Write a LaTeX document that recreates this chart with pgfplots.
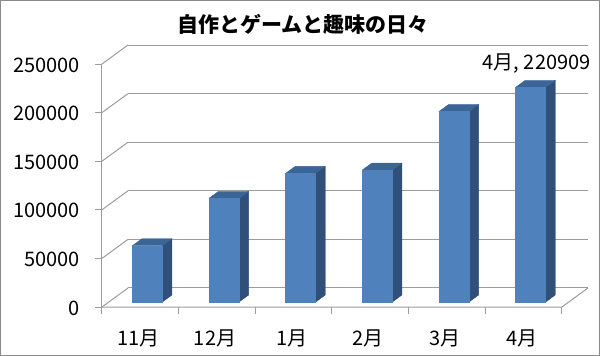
\documentclass[border=0pt]{standalone}
\usepackage{pgfplots}
\pgfplotsset{compat=1.18}
\usepackage{pgfplotstable}
\usepackage{fontspec}
\setmainfont{Noto Sans CJK JP}
\definecolor{barfront}{HTML}{4F81BD}
\definecolor{bartop}{HTML}{3C6597}
\definecolor{barside}{HTML}{30507A}
\definecolor{gridc}{HTML}{9C9C9C}
\definecolor{framec}{HTML}{8A8A8A}

\pgfplotstableread{
x v
0 57900
1 106700
2 132400
3 135800
4 196000
5 220909
}\visits

\begin{document}
\begin{tikzpicture}
\useasboundingbox (0,0) rectangle (600bp,356bp);
\begin{axis}[
  at={(109bp,54bp)}, anchor=south west,
  scale only axis, width=460bp, height=243bp,
  xmin=-0.5, xmax=5.5, ymin=0, ymax=250000,
  clip=false,
  axis line style={draw=none},
  major tick length=0pt,
  xtick={0,1,2,3,4,5},
  xticklabels={11月,12月,1月,2月,3月,4月},
  ytick={0,50000,100000,150000,200000,250000},
  scaled y ticks=false,
  /pgf/number format/fixed,
  /pgf/number format/1000 sep={},
  /pgf/number format/assume math mode=true,
  tick label style={font=\fontsize{20bp}{22bp}\selectfont, inner sep=0pt},
  yticklabel style={anchor=east, xshift=-29bp, yshift=-6bp},
  xticklabel style={anchor=center, xshift=-9bp, yshift=-36bp},
  title={自作とゲームと趣味の日々},
  title style={font=\fontsize{21bp}{24bp}\selectfont\bfseries, anchor=center,
    at={(axis description cs:0.5,1)}, xshift=-36bp, yshift=29bp},
]
% walls and floor
\pgfplotsinvokeforeach{0,50000,100000,150000,200000,250000}{
  \draw[gridc, line width=1bp] ([shift={(19bp,14bp)}]axis cs:-0.5,#1) -- ([shift={(19bp,14bp)}]axis cs:5.5,#1);
  \draw[gridc, line width=1bp] ([shift={(-7bp,-5bp)}]axis cs:-0.5,#1) -- ([shift={(19bp,14bp)}]axis cs:-0.5,#1);
  \draw[gridc, line width=1bp] ([shift={(-7bp,-5bp)}]axis cs:-0.5,#1) -- ++(-7bp,0pt);
}
\draw[gridc, line width=1bp] ([shift={(-7bp,-5bp)}]axis cs:-0.5,0) -- ([shift={(-7bp,-5bp)}]axis cs:-0.5,250000);
\draw[gridc, line width=1bp] ([shift={(-7bp,-5bp)}]axis cs:-0.5,0) -- ([shift={(-7bp,-5bp)}]axis cs:5.5,0) -- ([shift={(19bp,14bp)}]axis cs:5.5,0);
\pgfplotsinvokeforeach{-0.5,0.5,1.5,2.5,3.5,4.5,5.5}{
  \draw[gridc, line width=1bp] ([shift={(-7bp,-5bp)}]axis cs:#1,0) -- ++(0pt,-7bp);
}
% 3D bars
\addplot[scatter, only marks, mark=*, mark size=0pt, mark options={draw=none,fill=none},
  visualization depends on={rawy \as \rv},
  scatter/@pre marker code/.code={%
    \pgfkeys{/pgf/fpu=true,/pgf/fpu/output format=fixed}%
    \pgfmathparse{\rv*0.000972}%
    \global\let\barh\pgfmathresult
    \pgfkeys{/pgf/fpu=false}%
    \fill[barside] (15bp,0pt) -- (24.6bp,7bp) -- (24.6bp,7bp-\barh bp) -- (15bp,-\barh bp) -- cycle;
    \fill[bartop] (-15bp,0pt) -- (15bp,0pt) -- (24.6bp,7bp) -- (-5.4bp,7bp) -- cycle;
    \fill[barfront] (-15bp,0pt) rectangle (15bp,-\barh bp);
    \scope
  },
  scatter/@post marker code/.code={\endscope},
] table[x=x,y=v] {\visits};
% data label
\addplot[only marks, mark=none, point meta=y,
  nodes near coords={4月, \pgfmathprintnumber[fixed,1000 sep={}]{\pgfplotspointmeta}},
  every node near coord/.append style={font=\fontsize{20bp}{22bp}\selectfont, anchor=center, xshift=6bp, yshift=24bp, inner sep=0pt},
] table[x=x,y=v, skip coords between index={0}{5}] {\visits};
\end{axis}
\draw[framec, line width=1bp] (0.5bp,0.5bp) rectangle (599.5bp,355.5bp);
\end{tikzpicture}
\end{document}
